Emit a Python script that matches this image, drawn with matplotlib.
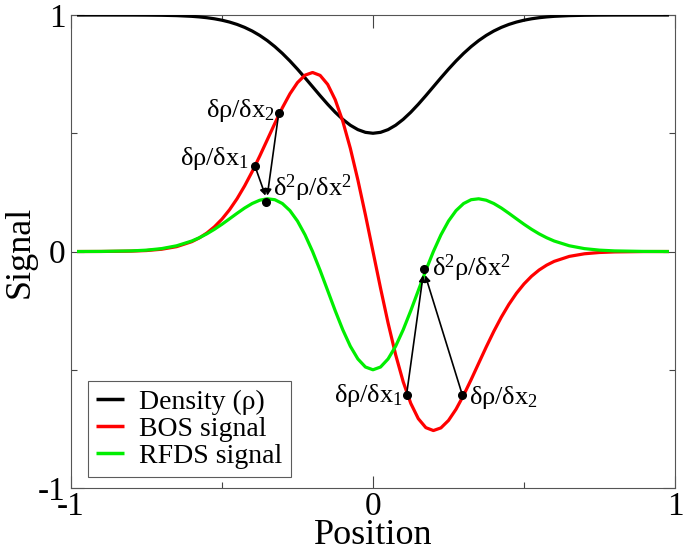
import matplotlib
matplotlib.use("Agg")
import matplotlib.pyplot as plt

plt.rcParams['font.family'] = ['Liberation Serif', 'DejaVu Serif']
plt.rcParams['mathtext.fontset'] = 'custom'
plt.rcParams['mathtext.rm'] = 'Liberation Serif'
plt.rcParams['mathtext.it'] = 'Liberation Serif:italic'

# ---- data ----
position = [-0.98, -0.9, -0.8, -0.75, -0.7, -0.65, -0.6, -0.575, -0.55, -0.525,
            -0.5, -0.475, -0.45, -0.425, -0.4, -0.375, -0.35, -0.325, -0.3, -0.275,
            -0.25, -0.225, -0.2, -0.175, -0.15, -0.125, -0.1, -0.075, -0.05, -0.025,
            0.0, 0.025, 0.05, 0.075, 0.1, 0.125, 0.15, 0.175, 0.2, 0.225,
            0.25, 0.275, 0.3, 0.325, 0.35, 0.375, 0.4, 0.425, 0.45, 0.475,
            0.5, 0.525, 0.55, 0.575, 0.6, 0.65, 0.7, 0.75, 0.8, 0.9, 0.98]

density = [1.0, 0.99998, 0.99983, 0.99956, 0.99891, 0.99746, 0.99445, 0.99198, 0.98861, 0.98405,
           0.97803, 0.97021, 0.96022, 0.94771, 0.93233, 0.91379, 0.89187, 0.86648, 0.83768, 0.80572,
           0.77108, 0.73445, 0.69674, 0.65903, 0.62258, 0.58871, 0.55875, 0.53395, 0.51539, 0.50389,
           0.5, 0.50389, 0.51539, 0.53395, 0.55875, 0.58871, 0.62258, 0.65903, 0.69674, 0.73445,
           0.77108, 0.80572, 0.83768, 0.86648, 0.89187, 0.91379, 0.93233, 0.94771, 0.96022, 0.97021,
           0.97803, 0.98405, 0.98861, 0.99198, 0.99445, 0.99746, 0.99891, 0.99956, 0.99983, 0.99998, 1.0]

bos_signal = [0.0, 0.0002, 0.0017, 0.0041, 0.0096, 0.0206, 0.0416, 0.0576, 0.0782, 0.1045,
              0.1371, 0.1766, 0.2234, 0.2774, 0.3378, 0.4035, 0.4724, 0.5416, 0.6078, 0.6668,
              0.7143, 0.7457, 0.7570, 0.7447, 0.7066, 0.6417, 0.5507, 0.4363, 0.3024, 0.1548,
              0.0, -0.1548, -0.3024, -0.4363, -0.5507, -0.6417, -0.7066, -0.7447, -0.7570, -0.7457,
              -0.7143, -0.6668, -0.6078, -0.5416, -0.4724, -0.4035, -0.3378, -0.2774, -0.2234, -0.1766,
              -0.1371, -0.1045, -0.0782, -0.0576, -0.0416, -0.0206, -0.0096, -0.0041, -0.0017, -0.0002, 0.0]

rfds_signal = [0.0, 0.0004, 0.0026, 0.0058, 0.0123, 0.0243, 0.0444, 0.0583, 0.0748, 0.0940,
               0.1153, 0.1383, 0.1616, 0.1839, 0.2030, 0.2169, 0.2230, 0.2191, 0.2029, 0.1730,
               0.1288, 0.0705, 0.0, -0.0799, -0.1651, -0.2506, -0.3309, -0.4005, -0.4543, -0.4884,
               -0.5, -0.4884, -0.4543, -0.4005, -0.3309, -0.2506, -0.1651, -0.0799, 0.0, 0.0705,
               0.1288, 0.1730, 0.2029, 0.2191, 0.2230, 0.2169, 0.2030, 0.1839, 0.1616, 0.1383,
               0.1153, 0.0940, 0.0748, 0.0583, 0.0444, 0.0243, 0.0123, 0.0058, 0.0026, 0.0004, 0.0]

series_labels = ['Density (ρ)', 'BOS signal', 'RFDS signal']
series_colors = ['#000000', '#ff0000', '#00ee00']

# annotated points: (x, y)
left_d1 = (-0.391, 0.362)
left_d2 = (-0.312, 0.586)
left_dd = (-0.353, 0.208)
right_d1 = (0.111, -0.607)
right_d2 = (0.296, -0.607)
right_dd = (0.169, -0.074)

xticks_major = [-1, 0, 1]
xticks_minor = [-0.5, 0.5]
yticks_major = [-1, 0, 1]
yticks_minor = [-0.5, 0.5]

# ---- figure ----
fig = plt.figure(figsize=(6.85, 5.52), dpi=100)
ax = fig.add_axes([0.1036, 0.1159, 0.8818, 0.8569])

for ys, lab, col in zip([density, bos_signal, rfds_signal], series_labels, series_colors):
    ax.plot(position, ys, color=col, lw=2.3, label=lab, solid_capstyle='butt', zorder=3)

ax.set_xlim(-1, 1)
ax.set_ylim(-1, 1)
ax.set_xticks(xticks_major)
ax.set_xticks(xticks_minor, minor=True)
ax.set_yticks(yticks_major)
ax.set_yticks(yticks_minor, minor=True)
ax.set_xticklabels(['-1', '0', '1'])
ax.set_yticklabels(['-1', '0', '1'])
ax.tick_params(which='both', direction='in', top=True, right=True, width=0.8, colors='#444444',
               labelcolor='black', labelsize=24, pad=4)
ax.tick_params(axis='x', which='major', pad=2.5)
ax.tick_params(which='major', length=9)
ax.tick_params(which='minor', length=4.5)
for sp in ax.spines.values():
    sp.set_linewidth(0.8)
    sp.set_color('#555555')

ax.set_xlabel('Position', fontsize=26, labelpad=-2.2)
ax.set_ylabel('Signal', fontsize=26, labelpad=0.5)

leg = ax.legend(loc='lower left', bbox_to_anchor=(0.0277, 0.023), borderaxespad=0,
                fontsize=20, frameon=True, fancybox=False, handlelength=1.0,
                handletextpad=0.55, borderpad=0.3, labelspacing=0.05)
leg.get_frame().set_edgecolor('#333333')
leg.get_frame().set_linewidth(0.8)
for h in leg.get_lines():
    h.set_linewidth(2.5)

# ---- annotations ----
fs = 19
for p in [left_d1, left_d2, left_dd, right_d1, right_d2, right_dd]:
    ax.plot(p[0], p[1], 'o', color='black', ms=5.5, zorder=5)

def arrow(src, dst_x, dst_y):
    ax.annotate('', xy=(dst_x, dst_y), xytext=src,
                arrowprops=dict(arrowstyle='-|>', color='black', lw=1.2,
                                mutation_scale=9, shrinkA=0, shrinkB=0), zorder=4)

arrow(left_d1, -0.356, 0.236)
arrow(left_d2, -0.350, 0.236)
arrow(right_d1, 0.166, -0.100)
arrow(right_d2, 0.173, -0.100)

ax.text(-0.552, 0.568, r'δρ/δx$_\mathregular{2}$', fontsize=fs, ha='left', va='baseline', zorder=6)
ax.text(-0.640, 0.365, r'δρ/δx$_\mathregular{1}$', fontsize=fs, ha='left', va='baseline', zorder=6)
ax.text(-0.330, 0.237, r'δ$^\mathregular{2}$ρ/δx$^\mathregular{2}$', fontsize=fs, ha='left', va='baseline', zorder=6)
ax.text(0.197, -0.103, r'δ$^\mathregular{2}$ρ/δx$^\mathregular{2}$', fontsize=fs, ha='left', va='baseline', zorder=6)
ax.text(-0.130, -0.636, r'δρ/δx$_\mathregular{1}$', fontsize=fs, ha='left', va='baseline', zorder=6)
ax.text(0.319, -0.645, r'δρ/δx$_\mathregular{2}$', fontsize=fs, ha='left', va='baseline', zorder=6)

fig.savefig('out.png', dpi=100)
